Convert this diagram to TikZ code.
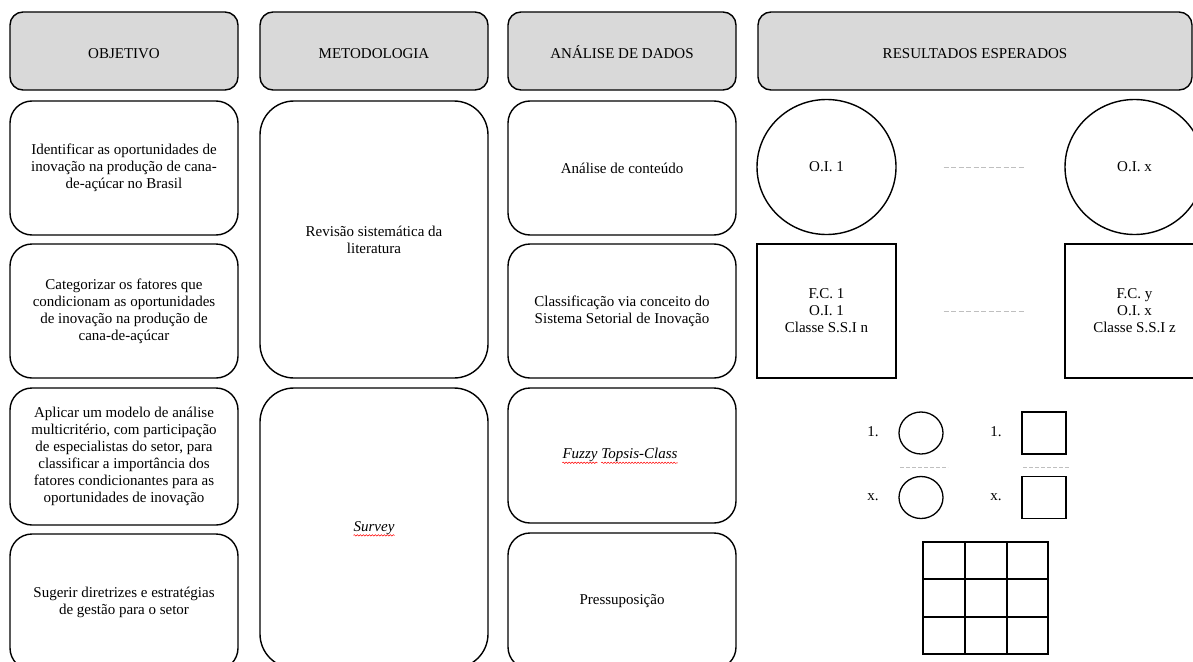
\documentclass[tikz,border=0pt]{standalone}
\usepackage{fontspec}
\setmainfont{Liberation Serif}
\usetikzlibrary{decorations.pathmorphing,shapes.geometric}
\definecolor{hdrgray}{HTML}{D9D9D9}
\definecolor{dashgray}{HTML}{BFBFBF}
\newcommand\myfs{\fontsize{15}{17}\selectfont}
\begin{document}
\begin{tikzpicture}[x=1pt,y=-1pt,
  hdr/.style={draw, line width=1.4pt, fill=hdrgray, rounded corners=13pt,
    minimum width=228pt, minimum height=78pt, align=center, font=\myfs, inner sep=0pt,
    text height=15pt, text depth=0pt},
  cbox/.style={draw, line width=1.4pt, rounded corners=22pt,
    minimum width=228pt, minimum height=134pt, align=center, font=\myfs, inner sep=0pt},
  tallbox/.style={cbox, rounded corners=34pt},
  bigcirc/.style={draw, line width=1.4pt, ellipse, minimum width=139pt, minimum height=135pt, font=\myfs, inner sep=0pt},
  bigsq/.style={draw, line width=1.4pt, rectangle, minimum width=139pt, minimum height=134pt, align=center, font=\myfs, inner sep=0pt},
  smcirc/.style={draw, line width=1.3pt, ellipse, minimum width=44pt, minimum height=42pt, inner sep=0pt},
  smsq/.style={draw, line width=1.5pt, rectangle, minimum width=44pt, minimum height=42pt, inner sep=0pt},
  lbl/.style={font=\myfs, inner sep=0pt},
  dots/.style={dashgray, line width=1pt, dash pattern=on 5pt off 2.5pt},
  squig/.style={red, line width=0.5pt, decorate, decoration={snake, amplitude=0.7pt, segment length=3pt}},
  gridline/.style={line width=1.1pt}
]
\useasboundingbox (0,0) rectangle (1193,661);
\fill[white] (0,0) rectangle (1193,661);
\clip (0,0) rectangle (1193,661);

% headers
\node[hdr] (h1) at (124,51) {OBJETIVO};
\node[hdr] (h2) at (374,51) {METODOLOGIA};
\node[hdr] (h3) at (622,51) {ANÁLISE DE DADOS};
\node[hdr, minimum width=434pt] (h4) at (975,51) {RESULTADOS ESPERADOS};

% column 1
\node[cbox] (o1) at (124,168) {Identificar as oportunidades de\\inovação na produção de cana-\\de-açúcar no Brasil};
\node[cbox] (o2) at (124,311) {Categorizar os fatores que\\condicionam as oportunidades\\de inovação na produção de\\cana-de-açúcar};
\node[cbox, minimum height=137pt] (o3) at (124,456.5) {Aplicar um modelo de análise\\multicritério, com participação\\de especialistas do setor, para\\classificar a importância dos\\fatores condicionantes para as\\oportunidades de inovação};
\node[cbox, minimum height=136pt] (o4) at (124,602) {Sugerir diretrizes e estratégias\\de gestão para o setor};

% column 2
\node[tallbox, minimum height=277pt] (m1) at (374,239.5) {Revisão sistemática da\\literatura};
\node[tallbox, minimum height=280pt] (m2) at (374,528) {};
\node[lbl, font=\myfs\itshape] (m2t) at (m2.center) {Survey};
\draw[squig] ([yshift=-4pt]m2t.base west) -- ([yshift=-4pt]m2t.base east);

% column 3
\node[cbox] (a1) at (622,168) {Análise de conteúdo};
\node[cbox] (a2) at (622,311) {Classificação via conceito do\\Sistema Setorial de Inovação};
\node[cbox, minimum height=135pt] (a3) at (622,455.5) {};
\node[lbl, font=\myfs\itshape] (a3a) at ([xshift=-42pt]a3.center) {Fuzzy};
\node[lbl, font=\myfs\itshape, anchor=base west] (a3b) at ([xshift=3.5pt]a3a.base east) {Topsis-Class};
\draw[squig] ([yshift=-4pt]a3a.base west) -- ([yshift=-4pt]a3a.base east);
\draw[squig] ([yshift=-4pt]a3b.base west) -- ([yshift=-4pt]a3b.base east);
\node[cbox, minimum height=136pt] (a4) at (622,601) {Pressuposição};

% column 4
\node[bigcirc] (oi1) at (826.5,167) {O.I. 1};
\node[bigcirc] (oix) at (1134.5,167) {O.I. x};
\draw[dots] ([xshift=47pt]oi1.east) -- ([xshift=-40pt]oix.west);
\node[bigsq] (fc1) at (826.5,311) {F.C. 1\\O.I. 1\\Classe S.S.I n};
\node[bigsq] (fcy) at (1134.5,311) {F.C. y\\O.I. x\\Classe S.S.I z};
\draw[dots] ([xshift=47pt]fc1.east) -- ([xshift=-40pt]fcy.west);

% legend
\node[lbl] (l1) at (873,432) {1.};
\node[smcirc] (c1) at (921,433) {};
\node[lbl] (lx) at (873,497) {x.};
\node[smcirc] (cx) at (921,497.5) {};
\coordinate (d1a) at (900,467);
\coordinate (d1b) at (948,467);
\draw[dots, dash pattern=on 4pt off 2pt] (d1a) -- (d1b);
\node[lbl] (r1) at (996,432) {1.};
\node[smsq] (s1) at (1044,433) {};
\node[lbl] (rx) at (996,497) {x.};
\node[smsq] (sx) at (1044,497.5) {};
\coordinate (d2a) at (1023,467);
\coordinate (d2b) at (1070,467);
\draw[dots, dash pattern=on 4pt off 2pt] (d2a) -- (d2b);

% grid
\draw[gridline] (923,542) rectangle (1048,654);
\draw[gridline] (965,542) -- (965,654);
\draw[gridline] (1007,542) -- (1007,654);
\draw[gridline] (923,579) -- (1048,579);
\draw[gridline] (923,617) -- (1048,617);
\end{tikzpicture}
\end{document}
